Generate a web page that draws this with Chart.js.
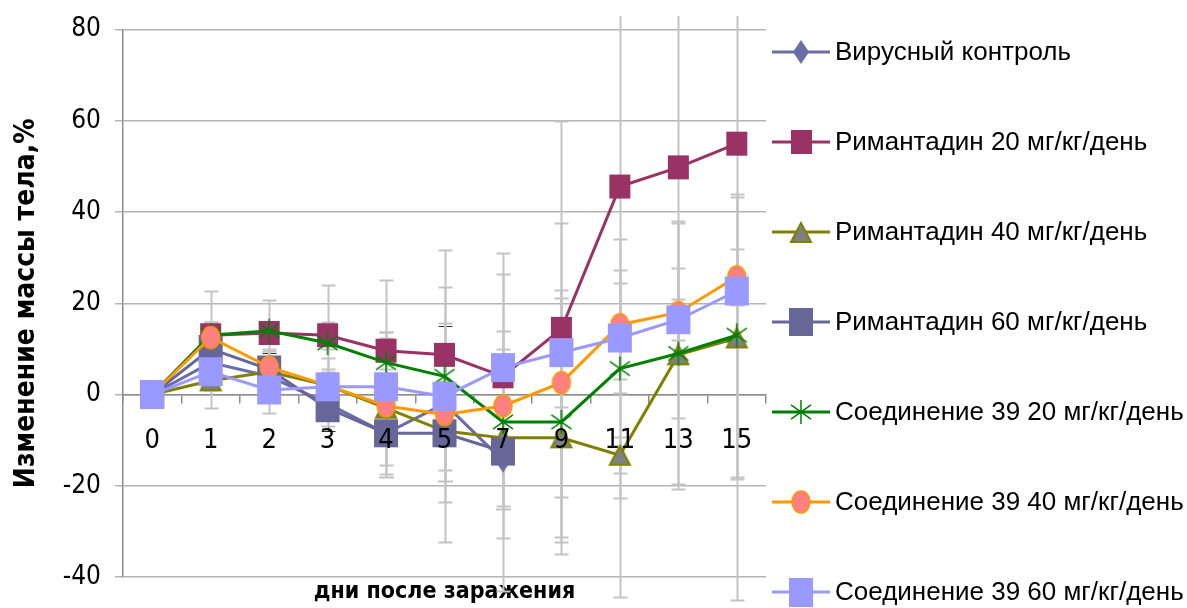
<!DOCTYPE html>
<html>
<head>
<meta charset="utf-8">
<script src="https://cdn.jsdelivr.net/npm/chart.js@4.4.1/dist/chart.umd.min.js"></script>
<style>
  html, body { margin: 0; padding: 0; background: #fff; }
  #wrap { width: 1187px; height: 608px; }
</style>
</head>
<body>
<div id="wrap"><canvas id="weightChart" width="1187" height="608"></canvas></div>
<script>
// days after infection
const days = ['0', '1', '2', '3', '4', '5', '7', '9', '11', '13', '15'];
const yTicks = [-40, -20, 0, 20, 40, 60, 80];

// body weight change, %
const virusControl = [0, 7, 4, -2, -8.5, -2, -14.5, null, null, null, null];
const rim20 = [0, 13, 13.5, 13, 9.6, 8.7, 4, 14.4, 45.6, 49.8, 55];
const rim40 = [0, 3, 5, 2, -3, -8, -9.5, -9.5, -13.3, 8.7, 12.4];
const rim60 = [0, 10, 5.5, -3, -8.5, -8.5, -12.5, null, null, null, null];
const comp20 = [0, 13, 14, 11.3, 7, 4, -6, -6, 5.7, 9, 13];
const comp40 = [0, 12.5, 6, 2, -2.5, -4.4, -2.5, 2.6, 15.3, 18, 25.8];
const comp60 = [0, 5, 1, 1.7, 1.7, -0.4, 5.9, 9.2, 12.4, 16.4, 22.7];

// error bars (+/-)
const virusErr = [0, 4, 5, 6, 9.5, 17, 10.5, 0, 0, 0, 0];
const rim20Err = [0, 3, 2, 3, 4, 7, 6, 45.6, 90, 55, 100];
const rim40Err = [0, 2, 2, 3, 15, 11, 15.5, 13, 4, 29.4, 31];
const rim60Err = [0, 6, 4, 4, 7, 8, 12, 0, 0, 0, 0];
const comp20Err = [0, 9.7, 6.7, 12.7, 18, 27.6, 37, 29, 28.3, 28.7, 31];
const comp40Err = [0, 3, 4, 6, 15, 28, 29, 35, 12, 9.7, 6];
const comp60Err = [0, 8, 5, 4, 12, 10, 8, 12, 12, 4.5, 3];

const narrow = "'DejaVu Sans Condensed', 'Liberation Sans', sans-serif";

function marker(shape, w, h, fill, stroke, lw) {
  const c = document.createElement('canvas');
  c.width = w + 4;
  c.height = h + 4;
  const g = c.getContext('2d');
  g.translate(2, 2);
  g.fillStyle = fill;
  g.strokeStyle = stroke;
  g.lineWidth = lw;
  g.beginPath();
  if (shape === 'square') {
    g.rect(0, 0, w, h);
  } else if (shape === 'diamond') {
    g.moveTo(w / 2, 0); g.lineTo(w, h / 2); g.lineTo(w / 2, h); g.lineTo(0, h / 2); g.closePath();
  } else if (shape === 'triangle') {
    g.moveTo(w / 2, 0); g.lineTo(w, h); g.lineTo(0, h); g.closePath();
  } else if (shape === 'circle') {
    g.ellipse(w / 2, h / 2, w / 2, h / 2, 0, 0, Math.PI * 2);
  } else if (shape === 'star') {
    g.moveTo(w / 2, 0); g.lineTo(w / 2, h);
    g.moveTo(0, h * 0.2); g.lineTo(w, h * 0.8);
    g.moveTo(0, h * 0.8); g.lineTo(w, h * 0.2);
    g.stroke();
    return c;
  }
  g.fill();
  if (lw) g.stroke();
  return c;
}

const errorBars = {
  id: 'errorBars',
  beforeDatasetsDraw(chart, args, opts) {
    const ctx = chart.ctx;
    const xs = chart.scales.x, ys = chart.scales.y;
    ctx.save();
    ctx.beginPath();
    ctx.rect(0, opts.clipTop, chart.width, chart.height - opts.clipTop);
    ctx.clip();
    chart.data.datasets.forEach(ds => {
      if (!ds.errors) return;
      ctx.strokeStyle = ds.errorColor;
      ctx.lineWidth = ds.errorWidth;
      ds.data.forEach((v, j) => {
        const e = ds.errors[j];
        if (v == null || !e) return;
        const px = Math.round(xs.getPixelForValue(j)) + 0.5;
        const top = Math.round(ys.getPixelForValue(v + e)) + 0.5;
        const bot = Math.round(ys.getPixelForValue(v - e)) + 0.5;
        ctx.beginPath();
        ctx.moveTo(px, top); ctx.lineTo(px, bot);
        ctx.moveTo(px - 7, top); ctx.lineTo(px + 7, top);
        ctx.moveTo(px - 7, bot); ctx.lineTo(px + 7, bot);
        ctx.stroke();
      });
    });
    ctx.restore();
  }
};

const sideLegend = {
  id: 'sideLegend',
  afterDraw(chart, args, opts) {
    const ctx = chart.ctx;
    chart.data.datasets.forEach((ds, i) => {
      const cy = opts.top + i * opts.step;
      ctx.save();
      ctx.strokeStyle = ds.borderColor;
      ctx.lineWidth = ds.borderWidth;
      ctx.beginPath();
      ctx.moveTo(opts.x, cy);
      ctx.lineTo(opts.x + opts.lineLen, cy);
      ctx.stroke();
      const m = ds.pointStyle;
      ctx.drawImage(m, Math.round(opts.x + opts.lineLen / 2 - m.width / 2), Math.round(cy - m.height / 2));
      ctx.fillStyle = '#000';
      ctx.font = opts.font;
      ctx.textBaseline = 'middle';
      ctx.fillText(ds.label, opts.x + opts.lineLen + 5, cy + 1);
      ctx.restore();
    });
  }
};

function series(label, data, errors, color, pointStyle, errorColor, errorWidth, order) {
  return {
    label: label,
    data: data,
    errors: errors,
    errorColor: errorColor,
    errorWidth: errorWidth,
    borderColor: color,
    backgroundColor: color,
    borderWidth: 3,
    pointStyle: pointStyle,
    pointRadius: 10,
    tension: 0,
    order: order
  };
}

new Chart(document.getElementById('weightChart'), {
  type: 'line',
  data: {
    labels: days,
    datasets: [
      series('Вирусный контроль', virusControl, virusErr, '#6c6ca8',
        marker('diamond', 16, 24, '#6c6ca8', '#6c6ca8', 0), '#303030', 1, 7),
      series('Римантадин 20 мг/кг/день', rim20, rim20Err, '#993366',
        marker('square', 21, 24, '#993366', '#993366', 0), '#c4c4c4', 2, 6),
      series('Римантадин 40 мг/кг/день', rim40, rim40Err, '#808000',
        marker('triangle', 20, 19, '#808080', '#808000', 2), '#c4c4c4', 2, 5),
      series('Римантадин 60 мг/кг/день', rim60, rim60Err, '#666699',
        marker('square', 24, 28, '#666699', '#666699', 0), '#c4c4c4', 2, 4),
      series('Соединение 39 20 мг/кг/день', comp20, comp20Err, '#008000',
        marker('star', 20, 24, '#008000', '#008000', 1.5), '#c4c4c4', 2, 3),
      series('Соединение 39 40 мг/кг/день', comp40, comp40Err, '#ff9900',
        marker('circle', 18, 22, '#ff8080', '#ff9900', 1.5), '#c4c4c4', 2, 2),
      series('Соединение 39 60 мг/кг/день', comp60, comp60Err, '#9999ff',
        marker('square', 24, 29, '#9999ff', '#9999ff', 0), '#c4c4c4', 2, 1)
    ]
  },
  options: {
    responsive: false,
    animation: false,
    layout: { padding: { top: 28, right: 421, left: 0, bottom: 0 } },
    scales: {
      y: {
        min: -40,
        max: 80,
        afterBuildTicks: s => { s.ticks = yTicks.map(v => ({ value: v })); },
        afterFit: s => { s.width = 123; },
        grid: { color: '#b4b4b4', lineWidth: 1.5, tickLength: 8 },
        border: { color: '#8c8c8c', width: 1.5 },
        ticks: { padding: 14, color: '#000', font: { family: narrow, size: 26 } },
        title: {
          display: true,
          text: 'Изменение массы тела,%',
          color: '#000',
          font: { family: narrow, size: 28, weight: 'bold' },
          padding: { top: 10, bottom: 6 }
        }
      },
      x: {
        type: 'category',
        labels: days,
        position: { y: 0 },
        offset: true,
        grid: { offset: true, drawOnChartArea: false, tickLength: 8, color: '#8c8c8c', lineWidth: 1.5 },
        border: { color: '#8c8c8c', width: 1.5 },
        ticks: { padding: 22, color: '#000', maxRotation: 0, autoSkip: false, z: 1,
          font: { family: narrow, size: 27 } }
      },
      xb: {
        type: 'category',
        labels: days,
        position: 'bottom',
        offset: true,
        afterFit: s => { s.height = 31; },
        grid: { display: false },
        border: { display: false },
        ticks: { display: false },
        title: {
          display: true,
          text: 'дни после заражения',
          color: '#000',
          font: { family: narrow, size: 23, weight: 'bold' },
          padding: { top: 0, bottom: 2 }
        }
      }
    },
    plugins: {
      legend: { display: false },
      tooltip: { enabled: false },
      errorBars: { clipTop: 16 },
      sideLegend: { x: 772, lineLen: 58, top: 52, step: 90, font: "26px 'Liberation Sans', Arial, sans-serif" }
    }
  },
  plugins: [errorBars, sideLegend]
});
</script>
</body>
</html>
